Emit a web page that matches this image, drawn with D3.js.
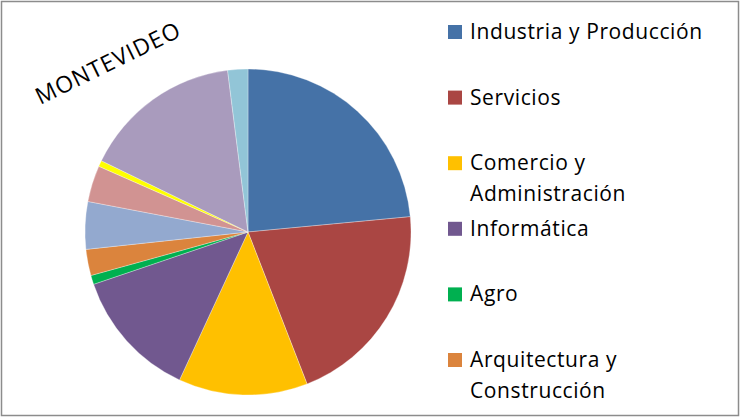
<!DOCTYPE html>
<html>
<head>
<meta charset="utf-8">
<script src="https://cdn.jsdelivr.net/npm/d3@7"></script>
<style>
  body { margin: 0; background: #fff; }
  svg { display: block; font-family: "Open Sans", sans-serif; }
</style>
</head>
<body>
<div id="chart"></div>
<script>

// categories and shares (%)
var categories = ["Industria y Producción", "Servicios", "Comercio y Administración", "Informática",
                  "Agro", "Arquitectura y Construcción", "Salud", "Turismo", "Deporte", "Educación", "Otros"];
var values = [23.5, 20.6, 12.8, 12.9, 0.9, 2.6, 4.7, 3.6, 0.6, 15.8, 2.0];
var colorList = ["#4572a7", "#aa4643", "#ffc000", "#71588f", "#00b050", "#db843d",
                 "#93a9cf", "#d19392", "#ffff00", "#a99bbd", "#92c5d7"];
// the legend only shows the first lines, the rest are clipped
var legendLines = [["Industria y Producción"], ["Servicios"], ["Comercio y", "Administración"],
                   ["Informática"], ["Agro"], ["Arquitectura y", "Construcción"]];

var W = 740, H = 417;

var svg = d3.select("#chart").append("svg")
  .attr("width", W)
  .attr("height", H);

svg.append("rect")
  .attr("x", 1.5).attr("y", 1.5)
  .attr("width", W - 3).attr("height", H - 3)
  .attr("fill", "#fff")
  .attr("stroke", "#8c8c8c")
  .attr("stroke-width", 1.5);

var color = d3.scaleOrdinal().domain(categories).range(colorList);

var pie = d3.pie().sort(null).value(function (d, i) { return values[i]; });
var arc = d3.arc().innerRadius(0).outerRadius(163);

var pieG = svg.append("g").attr("transform", "translate(248,232)");

pieG.selectAll("path")
  .data(pie(categories))
  .enter()
  .append("path")
  .attr("d", arc)
  .attr("fill", function (d) { return color(d.data); })
  .attr("stroke", "#fff")
  .attr("stroke-width", 0.5)
  .attr("stroke-opacity", 0.6);

svg.append("text")
  .attr("transform", "translate(108,63) rotate(-26)")
  .attr("text-anchor", "middle")
  .attr("dy", "0.35em")
  .attr("font-size", 23)
  .attr("letter-spacing", 1)
  .attr("fill", "#000")
  .text("MONTEVIDEO");

var legend = svg.append("g").attr("transform", "translate(448,0)");

var rowY = d3.scaleLinear().domain([0, 5]).range([39, 367]);

var rows = legend.selectAll("g.item")
  .data(legendLines)
  .enter()
  .append("g")
  .attr("class", "item")
  .attr("transform", function (d, i) { return "translate(0," + rowY(i) + ")"; });

rows.append("rect")
  .attr("x", 0).attr("y", -14)
  .attr("width", 14).attr("height", 14)
  .attr("fill", function (d, i) { return color(categories[i]); });

rows.each(function (lines) {
  var t = d3.select(this).append("text")
    .attr("x", 22)
    .attr("font-size", 21)
    .attr("letter-spacing", 0.6)
    .attr("fill", "#000");
  lines.forEach(function (l, j) {
    t.append("tspan").attr("x", 22).attr("y", j * 31).text(l);
  });
});

</script>
</body>
</html>
